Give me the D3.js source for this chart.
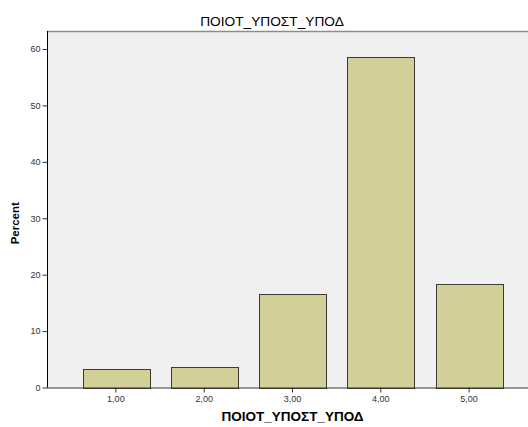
<!DOCTYPE html>
<html><head><meta charset="utf-8">
<script src="https://cdn.jsdelivr.net/npm/d3@7"></script>
<style>body{margin:0;background:#fff;}svg{display:block;font-family:Arial,"Liberation Sans",sans-serif;}</style>
</head><body><svg id="c" width="528" height="427"></svg>
<script>
const categories = ["1,00","2,00","3,00","4,00","5,00"];
const percents = [3.2, 3.6, 16.5, 58.5, 18.3];
const yTicks = [0,10,20,30,40,50,60];
const title = "ΠΟΙΟΤ_ΥΠΟΣΤ_ΥΠΟΔ";
const yLabel = "Percent";

const svg = d3.select("#c");
const L = 47, R = 538, T = 31, B = 387.5;
const x = d3.scaleBand().domain(categories).range([L, R]).paddingInner(0.245).paddingOuter(0.4025);
const y = d3.scaleLinear().domain([0, 60]).range([B, 49]);

svg.append("rect").attr("x", L).attr("y", T).attr("width", R - L).attr("height", B - T)
  .attr("fill", "#f0f0f0");
svg.append("line").attr("x1", L).attr("x2", R).attr("y1", T + 0.5).attr("y2", T + 0.5)
  .attr("stroke", "#8c8c8c").attr("stroke-width", 1.5);

svg.selectAll("rect.bar").data(percents).join("rect").attr("class", "bar")
  .attr("x", (d, i) => Math.round(x(categories[i])) + 0.5)
  .attr("y", d => Math.round(y(d)) + 0.5)
  .attr("width", Math.round(x.bandwidth()))
  .attr("height", d => Math.round(B) - Math.round(y(d)))
  .attr("fill", "#d3cf98").attr("stroke", "#3c3c34").attr("stroke-width", 1);

const yAxis = svg.append("g").attr("transform", `translate(${L + 0.5},0)`)
  .call(d3.axisLeft(y).tickValues(yTicks).tickSize(5).tickPadding(2).tickFormat(d3.format("d")));
yAxis.select(".domain").attr("d", `M0,${T}V${B}`).attr("stroke", "#000");
yAxis.selectAll("text").attr("font-size", 9).attr("fill", "#333").attr("font-family", "Arial, Liberation Sans, sans-serif");
yAxis.selectAll(".tick line").attr("stroke", "#333");

const xAxis = svg.append("g").attr("transform", `translate(0,${B})`)
  .call(d3.axisBottom(x).tickSize(5).tickPadding(3));
xAxis.select(".domain").attr("d", `M${L},0.5H${R}`).attr("stroke", "#333");
xAxis.selectAll("text").attr("font-size", 9).attr("fill", "#333").attr("font-family", "Arial, Liberation Sans, sans-serif");
xAxis.selectAll(".tick line").attr("stroke", "#333");

svg.append("text").attr("x", 272).attr("y", 26).attr("text-anchor", "middle")
  .attr("font-size", 13.7).attr("fill", "#000").text(title);
svg.append("text").attr("x", 292.5).attr("y", 421).attr("text-anchor", "middle")
  .attr("font-size", 13.5).attr("font-weight", "bold").attr("fill", "#000").text(title);
svg.append("text").attr("transform", `translate(19,${(49 + B) / 2 + 5}) rotate(-90)`)
  .attr("text-anchor", "middle").attr("font-size", 11.5).attr("font-weight", "bold").attr("fill", "#000").text(yLabel);
</script></body></html>
